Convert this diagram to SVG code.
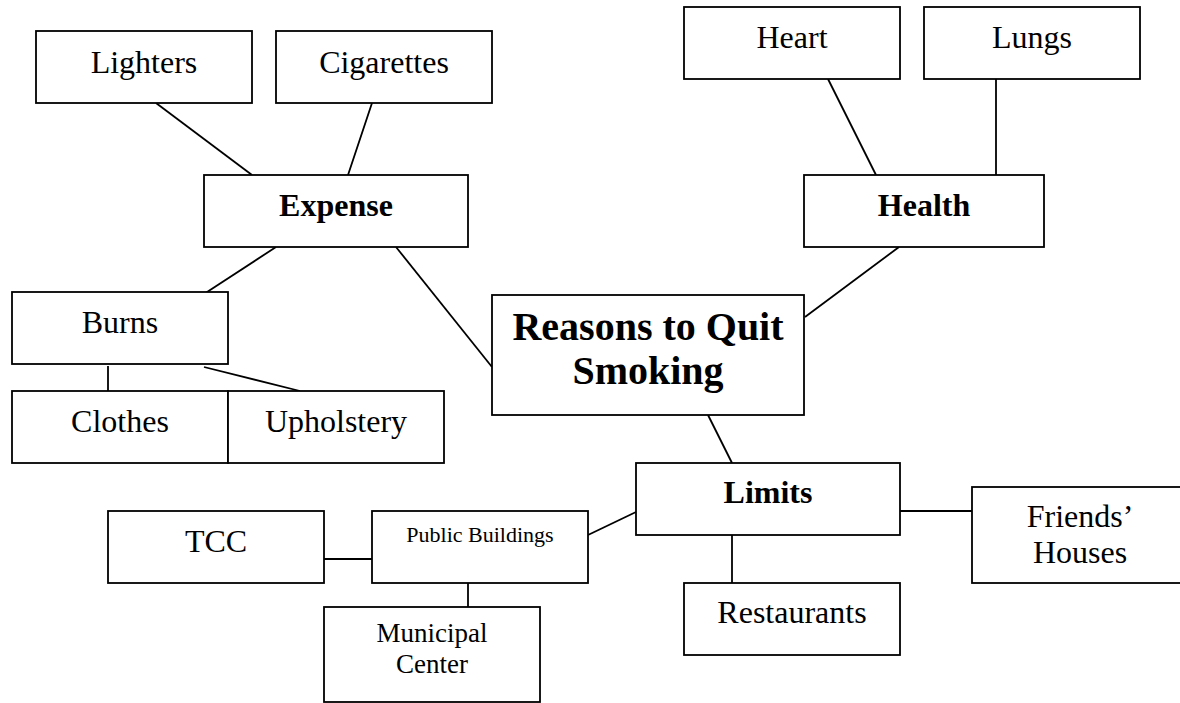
<svg xmlns="http://www.w3.org/2000/svg" width="1180" height="703" viewBox="0 0 1180 703">
<style>
rect{fill:#fff;stroke:#000;stroke-width:1.8}
line{stroke:#000;stroke-width:1.8}
text{font-family:"Liberation Serif","Times New Roman",serif;font-size:32px;fill:#000;text-anchor:middle}
.b{font-weight:bold}
.big{font-size:40px;font-weight:bold}
</style>
<rect x="0" y="0" width="1180" height="703" style="fill:#fff;stroke:none"/>
<g id="connectors">
<line x1="156" y1="103" x2="252" y2="175"/>
<line x1="372" y1="103" x2="348" y2="175"/>
<line x1="828" y1="79" x2="876" y2="175"/>
<line x1="996" y1="79" x2="996" y2="175"/>
<line x1="276" y1="247" x2="204" y2="294"/>
<line x1="396" y1="247" x2="492" y2="367"/>
<line x1="899" y1="247" x2="805" y2="317"/>
<line x1="108" y1="366" x2="108" y2="391"/>
<line x1="204" y1="367" x2="300" y2="391"/>
<line x1="708" y1="415" x2="732" y2="463"/>
<line x1="636" y1="512" x2="588" y2="535"/>
<line x1="900" y1="511" x2="972" y2="511"/>
<line x1="732" y1="535" x2="732" y2="583"/>
<line x1="324" y1="559" x2="372" y2="559"/>
<line x1="468" y1="583" x2="468" y2="607"/>
</g>
<g id="lighters"><rect x="36" y="31" width="216" height="72"/><text x="144" y="73">Lighters</text></g>
<g id="cigarettes"><rect x="276" y="31" width="216" height="72"/><text x="384" y="73">Cigarettes</text></g>
<g id="heart"><rect x="684" y="7" width="216" height="72"/><text x="792" y="48">Heart</text></g>
<g id="lungs"><rect x="924" y="7" width="216" height="72"/><text x="1032" y="48">Lungs</text></g>
<g id="expense"><rect x="204" y="175" width="264" height="72"/><text class="b" x="336" y="216">Expense</text></g>
<g id="health"><rect x="804" y="175" width="240" height="72"/><text class="b" x="924" y="216">Health</text></g>
<g id="burns"><rect x="12" y="292" width="216" height="72"/><text x="120" y="333">Burns</text></g>
<g id="reasons"><rect x="492" y="295" width="312" height="120"/><text class="big" x="648" y="340">Reasons to Quit</text><text class="big" x="648" y="384">Smoking</text></g>
<g id="clothes"><rect x="12" y="391" width="216" height="72"/><text x="120" y="432">Clothes</text></g>
<g id="upholstery"><rect x="228" y="391" width="216" height="72"/><text x="336" y="432">Upholstery</text></g>
<g id="limits"><rect x="636" y="463" width="264" height="72"/><text class="b" x="768" y="503">Limits</text></g>
<g id="friends"><rect x="972" y="487" width="216" height="96"/><text x="1080" y="527">Friends’</text><text x="1080" y="563">Houses</text></g>
<g id="tcc"><rect x="108" y="511" width="216" height="72"/><text x="216" y="552">TCC</text></g>
<g id="public"><rect x="372" y="511" width="216" height="72"/><text x="480" y="542" style="font-size:22px">Public Buildings</text></g>
<g id="restaurants"><rect x="684" y="583" width="216" height="72"/><text x="792" y="623">Restaurants</text></g>
<g id="municipal"><rect x="324" y="607" width="216" height="95"/><text x="432" y="642" style="font-size:27px">Municipal</text><text x="432" y="673" style="font-size:27px">Center</text></g>
</svg>
